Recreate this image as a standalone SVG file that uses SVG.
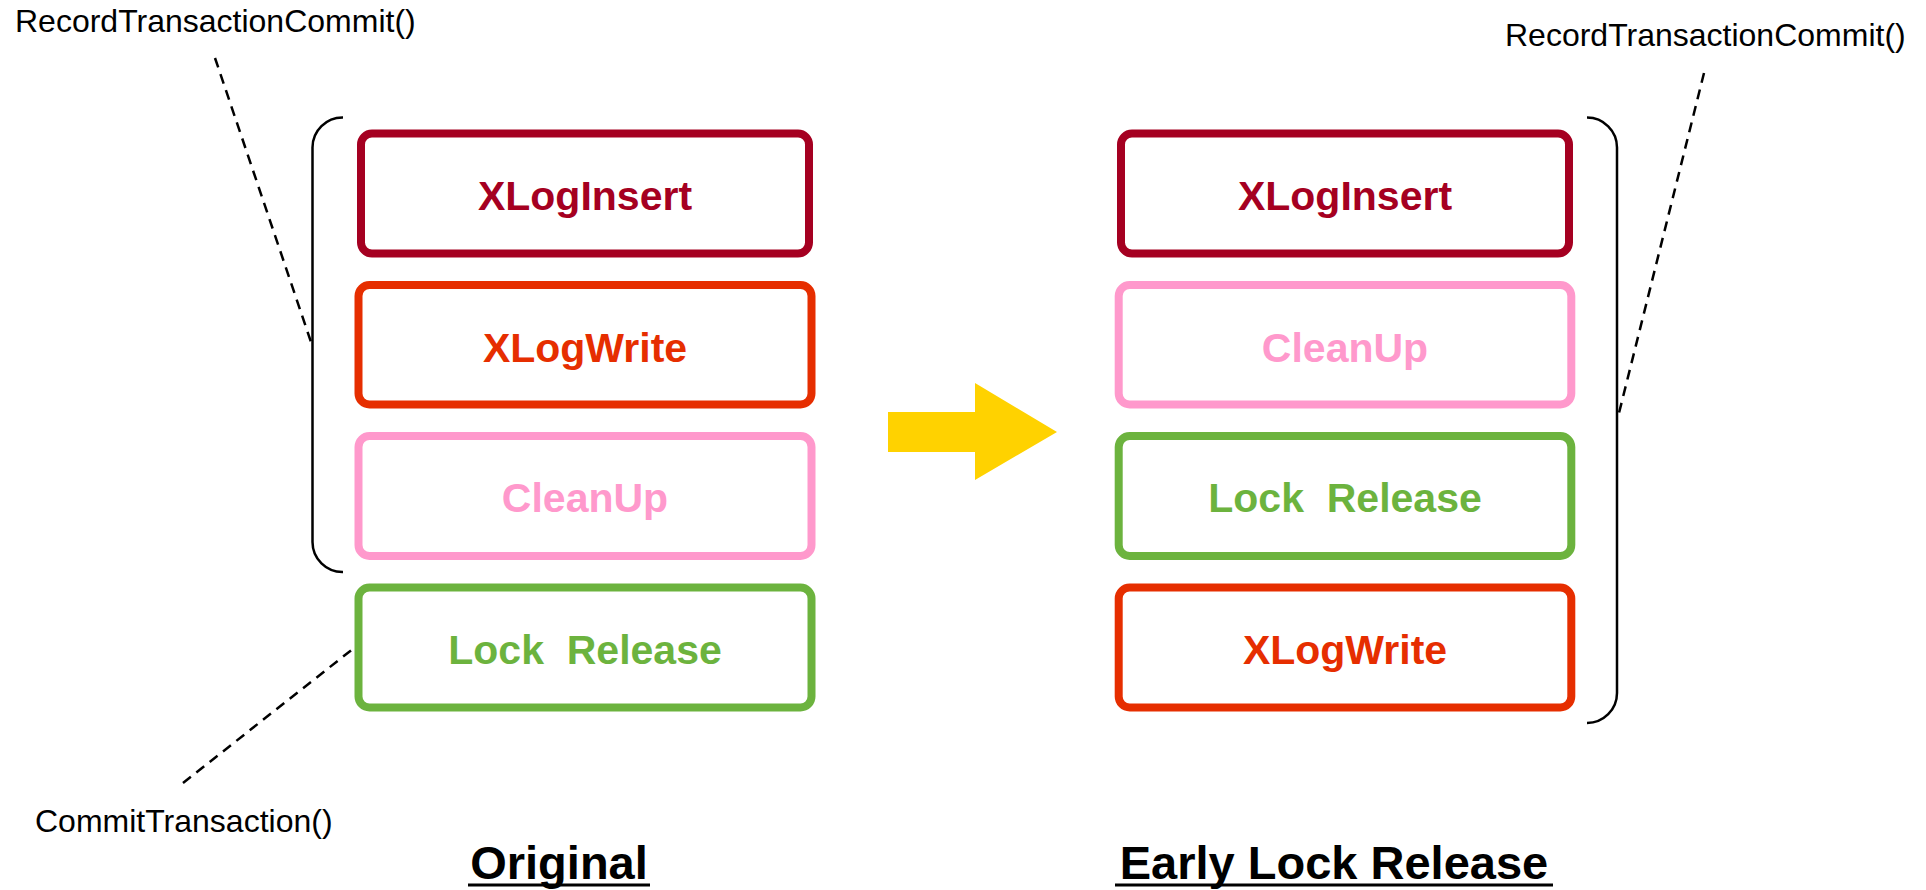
<svg xmlns="http://www.w3.org/2000/svg" width="1926" height="890" viewBox="0 0 1926 890">
  <style>
    .box { fill: #ffffff; stroke-width: 8; }
    .lbl { font-family: "Liberation Sans", Arial, sans-serif; font-weight: bold; font-size: 41px; text-anchor: middle; white-space: pre; }
    .note { font-family: "Liberation Sans", Arial, sans-serif; font-size: 32px; fill: #000000; }
    .title { font-family: "Liberation Sans", Arial, sans-serif; font-weight: bold; font-size: 47px; fill: #000000; text-anchor: middle; }
    .brace { fill: none; stroke: #000000; stroke-width: 2.5; }
    .lead { fill: none; stroke: #000000; stroke-width: 2.5; stroke-dasharray: 10 7; }
    .insert { stroke: #A50021; fill: #A50021; }
    .write { stroke: #E62E00; fill: #E62E00; }
    .cleanup { stroke: #FF99CC; fill: #FF99CC; }
    .lock { stroke: #6CB33E; fill: #6CB33E; }
  </style>

  <rect width="1926" height="890" fill="#ffffff"/>

  <!-- Original ordering -->
  <g id="orig-xloginsert">
    <rect class="box insert" style="fill:#fff" x="361" y="133.5" width="448" height="120" rx="11"/>
    <text class="lbl insert" style="stroke:none" x="585" y="210">XLogInsert</text>
  </g>
  <g id="orig-xlogwrite">
    <rect class="box write" style="fill:#fff" x="358.5" y="285" width="453" height="119.5" rx="11"/>
    <text class="lbl write" style="stroke:none" x="585" y="361.5">XLogWrite</text>
  </g>
  <g id="orig-cleanup">
    <rect class="box cleanup" style="fill:#fff" x="358.5" y="436" width="453" height="120" rx="11"/>
    <text class="lbl cleanup" style="stroke:none" x="585" y="512">CleanUp</text>
  </g>
  <g id="orig-lockrelease">
    <rect class="box lock" style="fill:#fff" x="358.5" y="587.5" width="453" height="120" rx="11"/>
    <text class="lbl lock" style="stroke:none" x="585" y="664">Lock  Release</text>
  </g>

  <!-- Early lock release ordering -->
  <g id="elr-xloginsert">
    <rect class="box insert" style="fill:#fff" x="1121" y="133.5" width="448" height="120" rx="11"/>
    <text class="lbl insert" style="stroke:none" x="1345" y="210">XLogInsert</text>
  </g>
  <g id="elr-cleanup">
    <rect class="box cleanup" style="fill:#fff" x="1118.7" y="285" width="452.6" height="119.5" rx="11"/>
    <text class="lbl cleanup" style="stroke:none" x="1345" y="362">CleanUp</text>
  </g>
  <g id="elr-lockrelease">
    <rect class="box lock" style="fill:#fff" x="1118.7" y="436" width="452.6" height="120" rx="11"/>
    <text class="lbl lock" style="stroke:none" x="1345" y="512">Lock  Release</text>
  </g>
  <g id="elr-xlogwrite">
    <rect class="box write" style="fill:#fff" x="1118.7" y="587.5" width="452.6" height="120" rx="11"/>
    <text class="lbl write" style="stroke:none" x="1345" y="664">XLogWrite</text>
  </g>

  <!-- Transition arrow -->
  <g id="transition-arrow">
    <polygon points="888,412 975,412 975,383 1057,432 975,480 975,452 888,452" fill="#FFD200"/>
  </g>

  <!-- Braces and leader lines -->
  <g id="connectors">
    <path class="brace" d="M343,117.5 A30,30 0 0 0 312.5,147.5 V542 A30,30 0 0 0 343,572"/>
    <path class="brace" d="M1587,117.5 A30,30 0 0 1 1617,147.5 V693 A30,30 0 0 1 1587,723"/>
    <line class="lead" x1="215" y1="58" x2="311" y2="342"/>
    <line class="lead" x1="1704" y1="73" x2="1618" y2="417"/>
    <line class="lead" x1="183" y1="783" x2="354" y2="648"/>
  </g>

  <g id="callout-labels">
    <text class="note" x="15" y="32">RecordTransactionCommit()</text>
    <text class="note" x="1505" y="46">RecordTransactionCommit()</text>
    <text class="note" x="35" y="832">CommitTransaction()</text>
  </g>

  <g id="titles">
    <text class="title" x="559" y="879">Original</text>
    <line x1="468" y1="885" x2="650" y2="885" stroke="#000" stroke-width="3"/>
    <text class="title" x="1334" y="879">Early Lock Release</text>
    <line x1="1115" y1="885" x2="1553" y2="885" stroke="#000" stroke-width="3"/>
  </g>
</svg>
